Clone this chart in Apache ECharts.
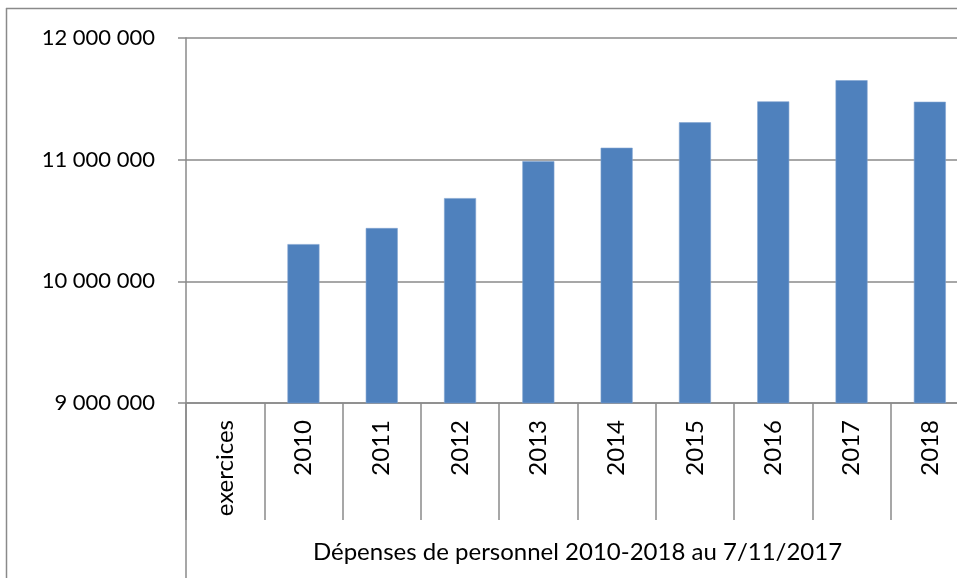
<!DOCTYPE html>
<html><head><meta charset="utf-8">
<script src="https://cdn.jsdelivr.net/npm/echarts@6/dist/echarts.min.js"></script>
<style>html,body{margin:0;padding:0;background:#fff;overflow:hidden;width:957px;height:578px}#c{width:980px;height:578px}</style>
</head><body><div id="c"></div>
<script>
const categories = ['exercices','2010','2011','2012','2013','2014','2015','2016','2017','2018'];
const values = [null, 10306000, 10438000, 10684000, 10988000, 11098000, 11307000, 11479000, 11653000, 11476000];
const yTicks = {min: 9000000, max: 12000000, interval: 1000000};
const axisTitle = 'Dépenses de personnel 2010-2018 au 7/11/2017';

const chart = echarts.init(document.getElementById('c'), null, {renderer:'canvas'});
const font = 'Lato, "Open Sans", sans-serif';
const grey = '#8a8a8a';
chart.setOption({
  animation:false,
  grid:{left:186, right:11, top:38, bottom:175, containLabel:false},
  xAxis:{
    type:'category', data:categories, boundaryGap:true,
    axisLine:{show:true, lineStyle:{color:grey, width:1.5}},
    axisTick:{show:true, length:117, interval:0, lineStyle:{color:grey, width:1.5}},
    axisLabel:{rotate:90, interval:0, margin:17, color:'#000', fontSize:24, fontFamily:font},
    name:axisTitle, nameLocation:'middle', nameGap:137,
    nameTextStyle:{color:'#000', fontSize:24, fontFamily:font}
  },
  yAxis:{
    type:'value', min:yTicks.min, max:yTicks.max, interval:yTicks.interval,
    axisLine:{show:true, lineStyle:{color:grey, width:1.5}},
    axisTick:{show:true, length:8, lineStyle:{color:grey, width:1.5}},
    splitLine:{show:true, lineStyle:{color:grey, width:1.5}},
    axisLabel:{margin:31, color:'#000', fontSize:22, fontFamily:font,
      formatter:v=>String(v).replace(/\B(?=(\d{3})+(?!\d))/g,' ')}
  },
  series:[{type:'bar', data:values, barWidth:32,
    itemStyle:{color:'#4F81BD', borderColor:'#7fa3d0', borderWidth:0.6}}],
  graphic:[
    {type:'line', shape:{x1:6.5,y1:8,x2:6.5,y2:578}, style:{stroke:grey, lineWidth:1.5}},
    {type:'line', shape:{x1:6,y1:8.5,x2:980,y2:8.5}, style:{stroke:grey, lineWidth:1.5}},
    {type:'line', shape:{x1:186,y1:403,x2:186,y2:578}, style:{stroke:grey, lineWidth:1.5}}
  ]
});
</script></body></html>
